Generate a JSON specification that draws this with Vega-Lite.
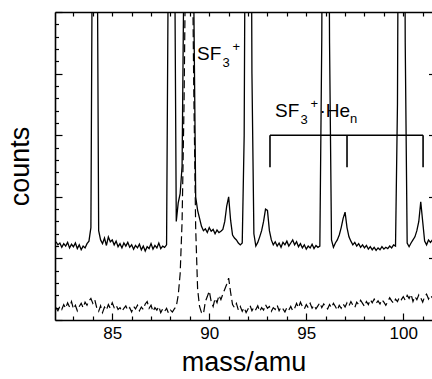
{
  "$schema": "https://vega.github.io/schema/vega-lite/v6.json",
  "width": 377,
  "height": 308,
  "autosize": "none",
  "padding": {"left": 55, "top": 12, "right": 0, "bottom": 59},
  "background": "white",
  "config": {
    "view": {"stroke": null},
    "font": "Liberation Sans",
    "axis": {
      "grid": false,
      "domainColor": "black",
      "domainWidth": 1.6,
      "tickColor": "black",
      "tickWidth": 1.2,
      "labelColor": "black",
      "titleColor": "black",
      "labelFont": "Liberation Sans",
      "titleFont": "Liberation Sans",
      "titleFontWeight": "normal"
    }
  },
  "datasets": {
    "spec": [
      {"m":82.1,"s":1.27,"d":0.2},{"m":82.2,"s":1.22,"d":0.15},{"m":82.3,"s":1.25,"d":0.22},{"m":82.4,"s":1.18,"d":0.17},{"m":82.5,"s":1.24,"d":0.25},
      {"m":82.6,"s":1.2,"d":0.19},{"m":82.7,"s":1.26,"d":0.28},{"m":82.8,"s":1.17,"d":0.21},{"m":82.9,"s":1.23,"d":0.3},{"m":83.0,"s":1.19,"d":0.18},
      {"m":83.1,"s":1.25,"d":0.24},{"m":83.2,"s":1.16,"d":0.15},{"m":83.3,"s":1.22,"d":0.22},{"m":83.4,"s":1.14,"d":0.27},{"m":83.5,"s":1.2,"d":0.2},
      {"m":83.6,"s":1.17,"d":0.29},{"m":83.7,"s":1.24,"d":0.24},{"m":83.8,"s":1.28,"d":0.31},{"m":83.9,"s":1.5,"d":0.35},{"m":84.0,"s":8,"d":0.27},
      {"m":84.1,"s":20,"d":0.33},{"m":84.2,"s":8,"d":0.2},{"m":84.3,"s":1.45,"d":0.14},{"m":84.4,"s":1.3,"d":0.23},{"m":84.5,"s":1.24,"d":0.12},
      {"m":84.6,"s":1.33,"d":0.21},{"m":84.7,"s":1.21,"d":0.16},{"m":84.8,"s":1.35,"d":0.25},{"m":84.9,"s":1.27,"d":0.19},{"m":85.0,"s":1.3,"d":0.28},
      {"m":85.1,"s":1.22,"d":0.2},{"m":85.2,"s":1.28,"d":0.24},{"m":85.3,"s":1.19,"d":0.17},{"m":85.4,"s":1.24,"d":0.2},{"m":85.5,"s":1.17,"d":0.14},
      {"m":85.6,"s":1.25,"d":0.19},{"m":85.7,"s":1.2,"d":0.23},{"m":85.8,"s":1.26,"d":0.16},{"m":85.9,"s":1.18,"d":0.2},{"m":86.0,"s":1.22,"d":0.13},
      {"m":86.1,"s":1.15,"d":0.22},{"m":86.2,"s":1.21,"d":0.18},{"m":86.3,"s":1.17,"d":0.24},{"m":86.4,"s":1.23,"d":0.15},{"m":86.5,"s":1.14,"d":0.21},
      {"m":86.6,"s":1.2,"d":0.17},{"m":86.7,"s":1.12,"d":0.26},{"m":86.8,"s":1.19,"d":0.3},{"m":86.9,"s":1.16,"d":0.19},{"m":87.0,"s":1.24,"d":0.24},
      {"m":87.1,"s":1.15,"d":0.14},{"m":87.2,"s":1.21,"d":0.2},{"m":87.3,"s":1.17,"d":0.16},{"m":87.4,"s":1.25,"d":0.22},{"m":87.5,"s":1.16,"d":0.12},
      {"m":87.6,"s":1.2,"d":0.18},{"m":87.7,"s":1.18,"d":0.14},{"m":87.8,"s":1.22,"d":0.19},{"m":87.9,"s":6.5,"d":0.11},{"m":88.0,"s":15,"d":0.16},
      {"m":88.1,"s":14,"d":0.13},{"m":88.2,"s":7,"d":0.18},{"m":88.3,"s":1.6,"d":0.22},{"m":88.4,"s":1.9,"d":0.4},{"m":88.5,"s":2.05,"d":0.75},
      {"m":88.6,"s":2.5,"d":1.6},{"m":88.7,"s":6,"d":3.5},{"m":88.8,"s":12,"d":6.5},{"m":88.9,"s":15,"d":9},{"m":89.0,"s":14,"d":9.5},
      {"m":89.1,"s":8,"d":7},{"m":89.2,"s":5.3,"d":3.8},{"m":89.3,"s":2.0,"d":1.5},{"m":89.4,"s":1.78,"d":0.5},{"m":89.5,"s":1.65,"d":0.22},
      {"m":89.6,"s":1.52,"d":0.12},{"m":89.7,"s":1.45,"d":0.1},{"m":89.8,"s":1.48,"d":0.3},{"m":89.9,"s":1.42,"d":0.38},{"m":90.0,"s":1.5,"d":0.47},
      {"m":90.1,"s":1.44,"d":0.3},{"m":90.2,"s":1.47,"d":0.22},{"m":90.3,"s":1.4,"d":0.35},{"m":90.4,"s":1.46,"d":0.28},{"m":90.5,"s":1.42,"d":0.4},
      {"m":90.6,"s":1.44,"d":0.33},{"m":90.7,"s":1.47,"d":0.42},{"m":90.8,"s":1.6,"d":0.5},{"m":90.9,"s":1.85,"d":0.58},{"m":91.0,"s":2.0,"d":0.68},
      {"m":91.1,"s":1.62,"d":0.45},{"m":91.2,"s":1.38,"d":0.25},{"m":91.3,"s":1.33,"d":0.2},{"m":91.4,"s":1.3,"d":0.27},{"m":91.5,"s":1.25,"d":0.16},
      {"m":91.6,"s":1.22,"d":0.22},{"m":91.7,"s":1.25,"d":0.14},{"m":91.8,"s":3,"d":0.2},{"m":91.9,"s":10,"d":0.12},{"m":92.0,"s":16,"d":0.18},
      {"m":92.1,"s":12,"d":0.24},{"m":92.2,"s":4,"d":0.15},{"m":92.3,"s":1.4,"d":0.21},{"m":92.4,"s":1.2,"d":0.17},{"m":92.5,"s":1.26,"d":0.23},
      {"m":92.6,"s":1.35,"d":0.14},{"m":92.7,"s":1.45,"d":0.2},{"m":92.8,"s":1.6,"d":0.16},{"m":92.9,"s":1.8,"d":0.25},{"m":93.0,"s":1.78,"d":0.19},
      {"m":93.1,"s":1.45,"d":0.22},{"m":93.2,"s":1.3,"d":0.14},{"m":93.3,"s":1.22,"d":0.2},{"m":93.4,"s":1.27,"d":0.17},{"m":93.5,"s":1.2,"d":0.24},
      {"m":93.6,"s":1.25,"d":0.15},{"m":93.7,"s":1.18,"d":0.21},{"m":93.8,"s":1.26,"d":0.18},{"m":93.9,"s":1.22,"d":0.13},{"m":94.0,"s":1.28,"d":0.2},
      {"m":94.1,"s":1.2,"d":0.16},{"m":94.2,"s":1.25,"d":0.22},{"m":94.3,"s":1.3,"d":0.15},{"m":94.4,"s":1.22,"d":0.19},{"m":94.5,"s":1.27,"d":0.27},
      {"m":94.6,"s":1.19,"d":0.2},{"m":94.7,"s":1.24,"d":0.29},{"m":94.8,"s":1.17,"d":0.22},{"m":94.9,"s":1.22,"d":0.18},{"m":95.0,"s":1.15,"d":0.25},
      {"m":95.1,"s":1.2,"d":0.2},{"m":95.2,"s":1.17,"d":0.27},{"m":95.3,"s":1.23,"d":0.19},{"m":95.4,"s":1.16,"d":0.24},{"m":95.5,"s":1.21,"d":0.18},
      {"m":95.6,"s":1.18,"d":0.23},{"m":95.7,"s":1.2,"d":0.28},{"m":95.8,"s":4.6,"d":0.2},{"m":95.9,"s":12,"d":0.26},{"m":96.0,"s":16,"d":0.21},
      {"m":96.1,"s":11,"d":0.18},{"m":96.2,"s":4.5,"d":0.25},{"m":96.3,"s":1.3,"d":0.2},{"m":96.4,"s":1.18,"d":0.27},{"m":96.5,"s":1.25,"d":0.22},
      {"m":96.6,"s":1.3,"d":0.16},{"m":96.7,"s":1.38,"d":0.24},{"m":96.8,"s":1.5,"d":0.19},{"m":96.9,"s":1.65,"d":0.26},{"m":97.0,"s":1.75,"d":0.21},
      {"m":97.1,"s":1.5,"d":0.28},{"m":97.2,"s":1.35,"d":0.23},{"m":97.3,"s":1.28,"d":0.3},{"m":97.4,"s":1.22,"d":0.24},{"m":97.5,"s":1.26,"d":0.2},
      {"m":97.6,"s":1.2,"d":0.29},{"m":97.7,"s":1.24,"d":0.25},{"m":97.8,"s":1.18,"d":0.32},{"m":97.9,"s":1.22,"d":0.27},{"m":98.0,"s":1.17,"d":0.22},
      {"m":98.1,"s":1.21,"d":0.3},{"m":98.2,"s":1.15,"d":0.25},{"m":98.3,"s":1.19,"d":0.33},{"m":98.4,"s":1.14,"d":0.28},{"m":98.5,"s":1.18,"d":0.34},
      {"m":98.6,"s":1.13,"d":0.27},{"m":98.7,"s":1.17,"d":0.31},{"m":98.8,"s":1.14,"d":0.26},{"m":98.9,"s":1.19,"d":0.33},{"m":99.0,"s":1.15,"d":0.29},
      {"m":99.1,"s":1.18,"d":0.24},{"m":99.2,"s":1.16,"d":0.3},{"m":99.3,"s":1.2,"d":0.36},{"m":99.4,"s":1.17,"d":0.31},{"m":99.5,"s":1.22,"d":0.27},
      {"m":99.6,"s":1.2,"d":0.34},{"m":99.7,"s":3.5,"d":0.3},{"m":99.8,"s":11,"d":0.37},{"m":99.9,"s":16,"d":0.33},{"m":100.0,"s":13,"d":0.38},
      {"m":100.1,"s":4.5,"d":0.32},{"m":100.2,"s":1.25,"d":0.4},{"m":100.3,"s":1.19,"d":0.35},{"m":100.4,"s":1.25,"d":0.42},{"m":100.5,"s":1.3,"d":0.3},
      {"m":100.6,"s":1.35,"d":0.38},{"m":100.7,"s":1.45,"d":0.33},{"m":100.8,"s":1.6,"d":0.41},{"m":100.9,"s":1.92,"d":0.36},{"m":101.0,"s":1.6,"d":0.29},
      {"m":101.1,"s":1.28,"d":0.38},{"m":101.2,"s":1.22,"d":0.42},{"m":101.3,"s":1.3,"d":0.34},{"m":101.4,"s":1.26,"d":0.4},{"m":101.5,"s":1.3,"d":0.36}
    ],
    "bracket": [
      {"bx":93.13,"bx2":101.02,"by":3.0,"by2":3.0},
      {"bx":93.13,"bx2":93.13,"by":3.0,"by2":2.48},
      {"bx":97.1,"bx2":97.1,"by":3.0,"by2":2.48},
      {"bx":101.02,"bx2":101.02,"by":3.0,"by2":2.48}
    ],
    "ann": [
      {"ax":89.37,"ay":4.221,"base":"SF","sub":"3","sup":"+","rest":"","rsub":""},
      {"ax":93.39,"ay":3.295,"base":"SF","sub":"3","sup":"+","rest":"·He","rsub":"n"}
    ]
  },
  "layer": [
    {
      "data": {"name": "spec"},
      "mark": {"type": "line", "color": "black", "strokeWidth": 1.3, "clip": true},
      "encoding": {
        "x": {
          "field": "m", "type": "quantitative",
          "scale": {"domain": [82.05, 101.48], "nice": false, "zero": false},
          "axis": {
            "orient": "bottom",
            "values": [83,84,85,86,87,88,89,90,91,92,93,94,95,96,97,98,99,100,101],
            "tickSize": {"condition": {"test": "datum.value % 5 === 0", "value": -7}, "value": -4},
            "labelExpr": "datum.value % 5 === 0 ? datum.label : ''",
            "labelFontSize": 17,
            "labelPadding": 12,
            "title": "mass/amu",
            "titleFontSize": 27,
            "titlePadding": 8
          }
        },
        "y": {
          "field": "s", "type": "quantitative",
          "scale": {"domain": [0, 5], "nice": false, "zero": false},
          "axis": {
            "orient": "left",
            "values": [0,0.2,0.4,0.6,0.8,1,1.2,1.4,1.6,1.8,2,2.2,2.4,2.6,2.8,3,3.2,3.4,3.6,3.8,4,4.2,4.4,4.6,4.8,5],
            "tickSize": {"condition": {"test": "abs(datum.value - round(datum.value)) < 0.01", "value": -7}, "value": -3.5},
            "labels": false,
            "title": "counts",
            "titleFontSize": 27,
            "titlePadding": 20
          }
        }
      }
    },
    {
      "data": {"name": "spec"},
      "mark": {"type": "line", "color": "black", "strokeWidth": 1.2, "strokeDash": [8, 4], "clip": true},
      "encoding": {
        "x": {
          "field": "m", "type": "quantitative",
          "scale": {"domain": [82.05, 101.48], "nice": false, "zero": false},
          "axis": {
            "orient": "top",
            "values": [83,84,85,86,87,88,89,90,91,92,93,94,95,96,97,98,99,100,101],
            "tickSize": -4,
            "labels": false,
            "title": null
          }
        },
        "y": {
          "field": "d", "type": "quantitative",
          "scale": {"domain": [0, 5], "nice": false, "zero": false},
          "axis": {
            "orient": "right",
            "values": [1,2,3,4],
            "tickSize": -3.5,
            "domain": false,
            "labels": false,
            "title": null
          }
        }
      }
    },
    {
      "data": {"name": "bracket"},
      "mark": {"type": "rule", "color": "black", "strokeWidth": 1.6},
      "encoding": {
        "x": {"field": "bx", "type": "quantitative", "scale": {"domain": [82.05, 101.48], "nice": false, "zero": false}, "axis": null},
        "x2": {"field": "bx2"},
        "y": {"field": "by", "type": "quantitative", "scale": {"domain": [0, 5], "nice": false, "zero": false}, "axis": null},
        "y2": {"field": "by2"}
      }
    },
    {
      "data": {"name": "ann"},
      "mark": {"type": "text", "align": "left", "baseline": "alphabetic", "fontSize": 19, "font": "Liberation Sans", "color": "black"},
      "encoding": {
        "x": {"field": "ax", "type": "quantitative", "scale": {"domain": [82.05, 101.48], "nice": false, "zero": false}, "axis": null},
        "y": {"field": "ay", "type": "quantitative", "scale": {"domain": [0, 5], "nice": false, "zero": false}, "axis": null},
        "text": {"field": "base"}
      }
    },
    {
      "data": {"name": "ann"},
      "mark": {"type": "text", "align": "left", "baseline": "alphabetic", "fontSize": 13, "font": "Liberation Sans", "color": "black", "dx": 25.5, "dy": 7},
      "encoding": {
        "x": {"field": "ax", "type": "quantitative", "scale": {"domain": [82.05, 101.48], "nice": false, "zero": false}, "axis": null},
        "y": {"field": "ay", "type": "quantitative", "scale": {"domain": [0, 5], "nice": false, "zero": false}, "axis": null},
        "text": {"field": "sub"}
      }
    },
    {
      "data": {"name": "ann"},
      "mark": {"type": "text", "align": "left", "baseline": "alphabetic", "fontSize": 13, "font": "Liberation Sans", "color": "black", "dx": 35.5, "dy": -9},
      "encoding": {
        "x": {"field": "ax", "type": "quantitative", "scale": {"domain": [82.05, 101.48], "nice": false, "zero": false}, "axis": null},
        "y": {"field": "ay", "type": "quantitative", "scale": {"domain": [0, 5], "nice": false, "zero": false}, "axis": null},
        "text": {"field": "sup"}
      }
    },
    {
      "data": {"name": "ann"},
      "mark": {"type": "text", "align": "left", "baseline": "alphabetic", "fontSize": 19, "font": "Liberation Sans", "color": "black", "dx": 44.5, "dy": 0},
      "encoding": {
        "x": {"field": "ax", "type": "quantitative", "scale": {"domain": [82.05, 101.48], "nice": false, "zero": false}, "axis": null},
        "y": {"field": "ay", "type": "quantitative", "scale": {"domain": [0, 5], "nice": false, "zero": false}, "axis": null},
        "text": {"field": "rest"}
      }
    },
    {
      "data": {"name": "ann"},
      "mark": {"type": "text", "align": "left", "baseline": "alphabetic", "fontSize": 13, "font": "Liberation Sans", "color": "black", "dx": 75, "dy": 6},
      "encoding": {
        "x": {"field": "ax", "type": "quantitative", "scale": {"domain": [82.05, 101.48], "nice": false, "zero": false}, "axis": null},
        "y": {"field": "ay", "type": "quantitative", "scale": {"domain": [0, 5], "nice": false, "zero": false}, "axis": null},
        "text": {"field": "rsub"}
      }
    }
  ],
  "resolve": {"axis": {"x": "independent", "y": "independent"}}
}
